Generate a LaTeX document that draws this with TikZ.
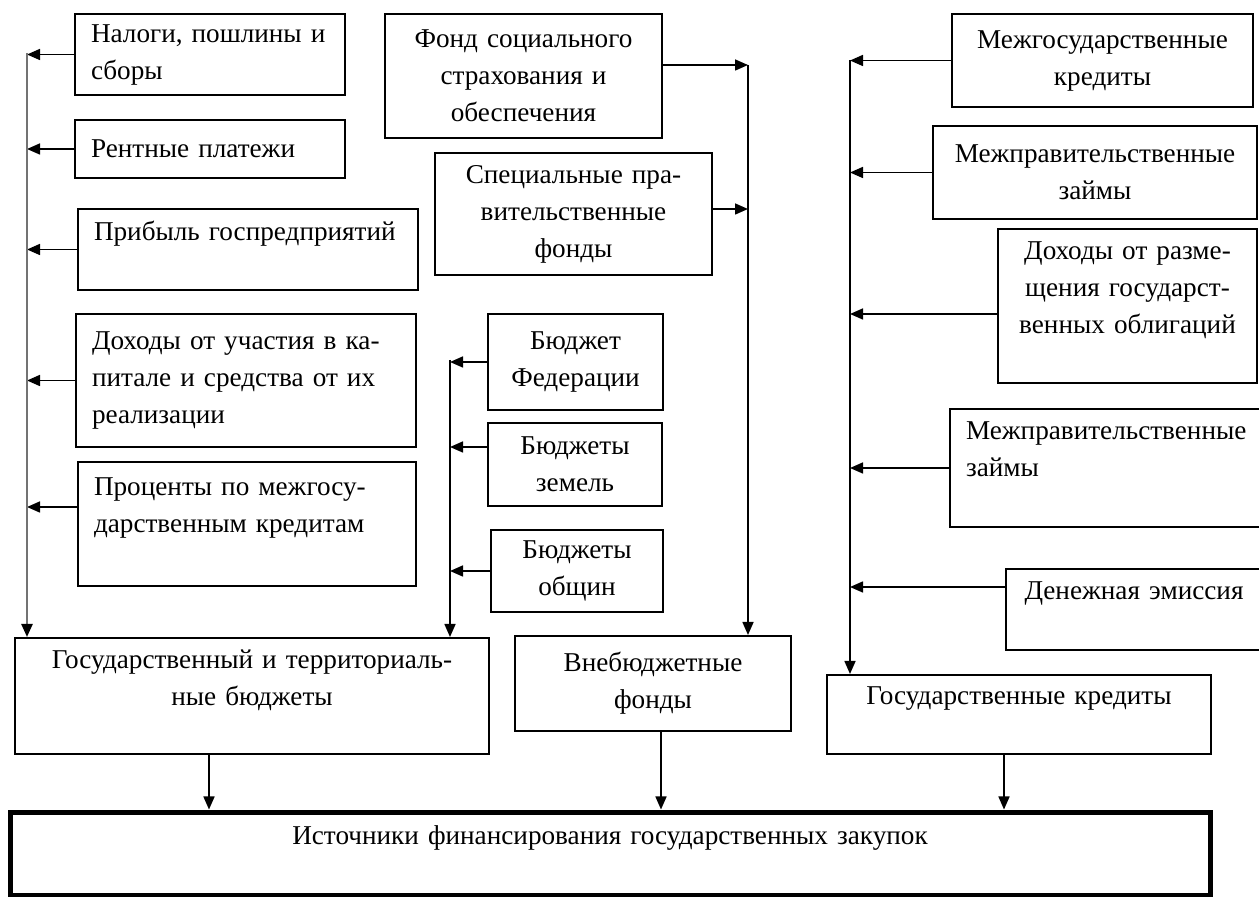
\documentclass[tikz,border=0pt]{standalone}
\usepackage{fontspec}
\setmainfont{Liberation Serif}
\usetikzlibrary{arrows.meta}
\tikzset{
	box/.style={draw, line width=1pt, font=\fontsize{13.6}{18.5}\selectfont, inner ysep=3pt},
	lbox/.style={box, align=left, inner xsep=8pt},
	cbox/.style={box, align=center, inner xsep=4pt},
	arr/.style={-{Triangle[length=6.5pt,width=5.5pt]}, line width=0.8pt},
}
\begin{document}
\begin{tikzpicture}[x=0.5pt,y=-0.5pt]
	\useasboundingbox (0,0) rectangle (1259,897);
	\node[lbox,text width=119pt,minimum height=40.5pt] (nalogi) at (210,54.5) {Налоги, пошлины и\\сборы};
	\node[lbox,text width=119pt,minimum height=29pt] (renta) at (210,149) {Рентные платежи};
	\node[lbox,text width=154pt,minimum height=40.5pt] (pribyl) at (248,249.5) {Прибыль госпредприятий\\\mbox{}};
	\node[lbox,text width=154pt,minimum height=66.5pt] (uchast) at (246,380.5) {Доходы от участия в ка-\\питале и средства от их\\реализации};
	\node[lbox,text width=153pt,minimum height=62pt] (procent) at (247,524) {Проценты по межгосу-\\дарственным кредитам\\\mbox{}};
	\node[cbox,text width=130.5pt,minimum height=62pt] (fond) at (523.5,76) {Фонд социального\\страхования и\\обеспечения};
	\node[cbox,text width=130.5pt,minimum height=61pt] (spec) at (573.5,214) {Специальные пра-\\вительственные\\фонды};
	\node[cbox,text width=79.5pt,minimum height=48pt] (federal) at (575.5,362) {Бюджет\\Федерации};
	\node[cbox,text width=79pt,minimum height=41.5pt] (zemli) at (575,464.5) {Бюджеты\\земель};
	\node[cbox,text width=78pt,minimum height=41pt] (obshch) at (577,571) {Бюджеты\\общин};
	\node[cbox,text width=142.5pt,minimum height=46.5pt] (mezhgos) at (1102.5,60.5) {Межгосударственные\\кредиты};
	\node[cbox,text width=154pt,minimum height=46.5pt] (zaym1) at (1095,172.5) {Межправительственные\\займы};
	\node[cbox,text width=121.5pt,minimum height=77pt] (razm) at (1127.5,306) {Доходы от разме-\\щения государст-\\венных облигаций\\\mbox{}};
	\node[lbox,text width=154pt,minimum height=59pt] (zaym2) at (1120,468) {Межправительственные\\займы\\\mbox{}};
	\node[cbox,text width=120pt,minimum height=40.5pt] (emis) at (1134,609.5) {Денежная эмиссия\\\mbox{}};
	\node[cbox,text width=229pt,minimum height=58pt] (gosbud) at (252,696) {Государственный и территориаль-\\ные бюджеты\\\mbox{}};
	\node[cbox,text width=130pt,minimum height=47.5pt] (vneb) at (653,683.5) {Внебюджетные\\фонды};
	\node[cbox,text width=184pt,minimum height=39.5pt] (goskred) at (1019,714.5) {Государственные кредиты\\\mbox{}};
	\node[cbox,line width=2.5pt,text width=592pt,minimum height=41.5pt] (istoch) at (610,853.5) {Источники финансирования государственных закупок\\\mbox{}};
	\coordinate (lbus) at (27,53);
	\coordinate (mbus) at (450,360);
	\coordinate (cbus) at (748,65);
	\coordinate (rbus) at (850,60);
	\draw[arr] (nalogi) -- (nalogi -| lbus);
	\draw[arr] (renta) -- (renta -| lbus);
	\draw[arr] (pribyl) -- (pribyl -| lbus);
	\draw[arr] (uchast) -- (uchast -| lbus);
	\draw[arr] ([yshift=8.5pt]procent.west) -- ([yshift=8.5pt]procent.west -| lbus);
	\draw[arr] (federal) -- (federal -| mbus);
	\draw[arr] ([yshift=8.75pt]zemli.west) -- ([yshift=8.75pt]zemli.west -| mbus);
	\draw[arr] (obshch) -- (obshch -| mbus);
	\draw[arr] ([yshift=5.5pt]fond.east) -- ([yshift=5.5pt]fond.east -| cbus);
	\draw[arr] ([yshift=2.5pt]spec.east) -- ([yshift=2.5pt]spec.east -| cbus);
	\draw[arr] (mezhgos) -- (mezhgos -| rbus);
	\draw[arr] (zaym1) -- (zaym1 -| rbus);
	\draw[arr] ([yshift=-4pt]razm.west) -- ([yshift=-4pt]razm.west -| rbus);
	\draw[arr] (zaym2.west) -- (zaym2.west -| rbus);
	\draw[arr] ([yshift=11.25pt]emis.west) -- ([yshift=11.25pt]emis.west -| rbus);
	\draw[-{Triangle[length=6.5pt,width=5.5pt,color=black]}, black!55, line width=1.2pt] (lbus) -- (lbus |- gosbud.north);
	\draw[arr] (mbus) -- (mbus |- gosbud.north);
	\draw[arr] (cbus) -- (cbus |- vneb.north);
	\draw[arr] (rbus) -- (rbus |- goskred.north);
	\draw[arr] ([xshift=-21.5pt]gosbud.south) -- ([xshift=-21.5pt]gosbud.south |- istoch.north);
	\draw[arr] ([xshift=4pt]vneb.south) -- ([xshift=4pt]vneb.south |- istoch.north);
	\draw[arr] ([xshift=-7.5pt]goskred.south) -- ([xshift=-7.5pt]goskred.south |- istoch.north);
\end{tikzpicture}
\end{document}
